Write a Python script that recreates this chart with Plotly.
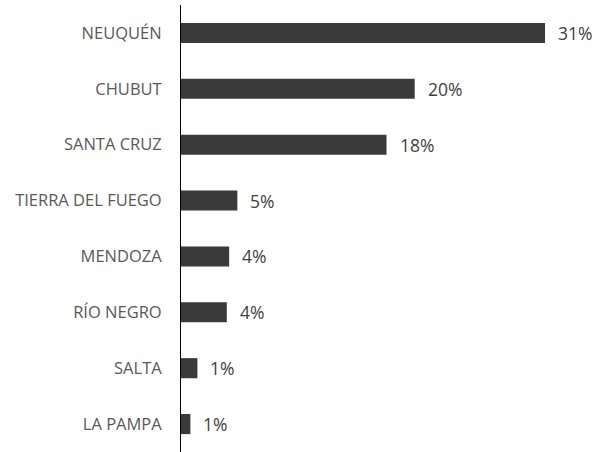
import plotly.graph_objects as go

provinces = ["NEUQUÉN", "CHUBUT", "SANTA CRUZ", "TIERRA DEL FUEGO",
             "MENDOZA", "RÍO NEGRO", "SALTA", "LA PAMPA"]
shares = [31.0, 19.9, 17.5, 4.8, 4.1, 3.9, 1.4, 0.8]
labels = ["31%", "20%", "18%", "5%", "4%", "4%", "1%", "1%"]

BAR = "#3a3a3a"
TXT = "#595959"
FONT = "'Open Sans', sans-serif"

fig = go.Figure(go.Bar(
    x=shares, y=provinces, orientation="h",
    marker=dict(color=BAR, line=dict(width=0)),
    width=0.36, hoverinfo="skip",
))

for v, p, t in zip(shares, provinces, labels):
    fig.add_annotation(x=v, y=p, text=t, showarrow=False, xanchor="left",
                       xshift=11, font=dict(family=FONT, size=17.5, color="#404040"))

fig.update_layout(
    width=598, height=452,
    margin=dict(l=181, r=6, t=5, b=0),
    plot_bgcolor="white", paper_bgcolor="white",
    showlegend=False,
    xaxis=dict(range=[0, 35], visible=False, fixedrange=True),
    yaxis=dict(autorange="reversed", showline=True, linecolor="black", linewidth=1,
               showgrid=False, ticks="outside", ticklen=15, tickcolor="rgba(0,0,0,0)",
               tickfont=dict(family=FONT, size=16.5, color=TXT), automargin=False,
               fixedrange=True),
)

fig.write_html("out.html", config={"displayModeBar": False},
               post_script="document.body.style.margin='0';")
